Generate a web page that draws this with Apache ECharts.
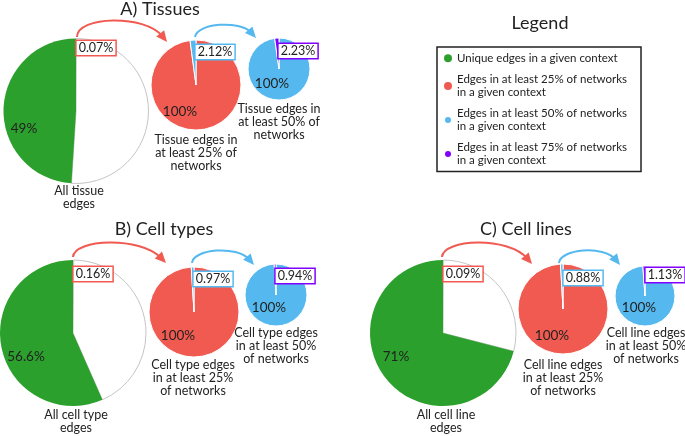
<!DOCTYPE html>
<html>
<head>
<meta charset="utf-8">
<script src="https://cdn.jsdelivr.net/npm/echarts@6/dist/echarts.min.js"></script>
<style>html,body{margin:0;padding:0;background:#fff}#c{width:685px;height:436px}</style>
</head>
<body>
<div id="c"></div>
<script>
// ---- data ----
const panelTitles = ['A) Tissues', 'B) Cell types', 'C) Cell lines'];
const uniquePct = [49, 56.6, 71];          // green share of all edges
const in25Pct = [0.07, 0.16, 0.09];        // share of all edges in >=25% of networks
const in50Pct = [2.12, 0.97, 0.88];        // share of 25% edges in >=50% of networks
const in75Pct = [2.23, 0.94, 1.13];        // share of 50% edges in >=75% of networks
const allCaptions = ['All tissue\nedges', 'All cell type\nedges', 'All cell line\nedges'];
const cap25 = ['Tissue edges in\nat least 25% of\nnetworks', 'Cell type edges\nin at least 25%\nof networks', 'Cell line edges\nin at least 25%\nof networks'];
const cap50 = ['Tissue edges in\nat least 50% of\nnetworks', 'Cell type edges\nin at least 50%\nof networks', 'Cell line edges\nin at least 50%\nof networks'];
const legendNames = [
  'Unique edges in a given context',
  'Edges in at least 25% of networks\nin a given context',
  'Edges in at least 50% of networks\nin a given context',
  'Edges in at least 75% of networks\nin a given context'
];
const wholeLabel = '100%';

// ---- style / layout ----
const GREEN = '#2ca02c', RED = '#f05a50', BLUE = '#55b9f0', PURPLE = '#8000ff';
const FONT = 'Lato';
const layout = [
  { big: [76, 111, 72.5], red: [196, 85, 45], blue: [279, 69, 31], title: [160, 0],
    uniqLbl: [24, 129], redLbl: [180, 112], blueLbl: [272, 84],
    box25: [96, 48], box50: [215, 52], box75: [298, 51],
    capAll: [79, 191], cap25: [196, 140], cap50: [279, 109],
    arrR: [77, 37, 77, 16, 145, 14, 167, 42], arrB: [195, 37, 197, 23, 240, 20, 256, 38] },
  { big: [73, 333, 73], red: [194, 312, 45], blue: [276, 295, 31], title: [164, 220],
    uniqLbl: [26, 357], redLbl: [178, 336], blueLbl: [269, 308],
    box25: [93, 274], box50: [213, 279], box75: [295, 276],
    capAll: [76, 415], cap25: [193, 365], cap50: [276, 333],
    arrR: [73, 257, 74, 239, 140, 236, 166, 263], arrB: [192, 263, 193, 249, 237, 245, 254, 265] },
  { big: [443, 333, 73], red: [563, 309, 45], blue: [645, 296, 30], title: [526, 220],
    uniqLbl: [396, 357], redLbl: [552, 336], blueLbl: [639, 308],
    box25: [463, 274], box50: [583, 278], box75: [665, 275],
    capAll: [446, 415], cap25: [563, 365], cap50: [646, 333],
    arrR: [442, 257, 443, 239, 508, 236, 532, 264], arrB: [559, 263, 560, 249, 604, 245, 620, 265] }
];

const series = [];
const graphic = [];
const titles = [];

function arrow(p, color) {
  const [x1, y1, c1x, c1y, c2x, c2y, tx, ty] = p;
  let dx = tx - c2x, dy = ty - c2y;
  const L = Math.hypot(dx, dy); dx /= L; dy /= L;
  const nx = -dy, ny = dx;
  const ex = tx - dx * 7, ey = ty - dy * 7;
  graphic.push({ type: 'bezierCurve', silent: true, z: 10,
    shape: { x1, y1, cpx1: c1x, cpy1: c1y, cpx2: c2x, cpy2: c2y, x2: ex, y2: ey },
    style: { stroke: color, lineWidth: 2, fill: null } });
  graphic.push({ type: 'polygon', silent: true, z: 10,
    shape: { points: [[tx, ty], [tx - dx * 11 + nx * 5, ty - dy * 11 + ny * 5], [tx - dx * 11 - nx * 5, ty - dy * 11 - ny * 5]] },
    style: { fill: color } });
}
function txt(x, y, text, size, color, lh) {
  graphic.push({ type: 'text', x, y, silent: true, z: 10,
    style: { text, font: size + 'px ' + FONT, fill: color || '#222', align: 'center',
      verticalAlign: 'top', lineHeight: lh || size } });
}
function ctext(x, y, text, size) {
  graphic.push({ type: 'text', x, y, silent: true, z: 10,
    style: { text, font: size + 'px ' + FONT, fill: '#222', align: 'center', verticalAlign: 'middle' } });
}
function boxText(x, y, text, color) {
  graphic.push({ type: 'text', x, y, silent: true, z: 11,
    style: { text, font: '12.5px ' + FONT, fill: '#222', align: 'center', verticalAlign: 'middle',
      backgroundColor: '#fff', borderColor: color, borderWidth: 1.5, padding: [1, 2, 0, 2] } });
}

panelTitles.forEach((t, i) => {
  const L = layout[i];
  titles.push({ text: t, left: L.title[0], top: L.title[1], textAlign: 'center', padding: 0,
    textStyle: { fontFamily: FONT, fontSize: 18, fontWeight: 'normal', color: '#222' } });
  // all edges pie
  series.push({ type: 'pie', center: [L.big[0], L.big[1]], radius: L.big[2], startAngle: 90, clockwise: true,
    label: { show: false }, labelLine: { show: false }, silent: true,
    data: [
      { name: legendNames[1], value: in25Pct[i], itemStyle: { color: RED } },
      { name: 'other', value: 100 - uniquePct[i] - in25Pct[i], itemStyle: { color: '#fff', borderColor: '#c4c4c4', borderWidth: 1 } },
      { name: legendNames[0], value: uniquePct[i], itemStyle: { color: GREEN } }
    ] });
  // 25% pie
  series.push({ type: 'pie', center: [L.red[0], L.red[1]], radius: L.red[2], startAngle: 90, clockwise: true,
    label: { show: false }, labelLine: { show: false }, silent: true,
    itemStyle: { borderColor: '#fff', borderWidth: 1 },
    data: [
      { name: legendNames[1], value: 100 - in50Pct[i], itemStyle: { color: RED } },
      { name: legendNames[2], value: in50Pct[i], itemStyle: { color: BLUE } }
    ] });
  // 50% pie
  series.push({ type: 'pie', center: [L.blue[0], L.blue[1]], radius: L.blue[2], startAngle: 90, clockwise: true,
    label: { show: false }, labelLine: { show: false }, silent: true,
    itemStyle: { borderColor: '#fff', borderWidth: 1 },
    data: [
      { name: legendNames[2], value: 100 - in75Pct[i], itemStyle: { color: BLUE } },
      { name: legendNames[3], value: in75Pct[i], itemStyle: { color: PURPLE } }
    ] });

  ctext(L.uniqLbl[0], L.uniqLbl[1], uniquePct[i] + '%', 13.5);
  ctext(L.redLbl[0], L.redLbl[1], wholeLabel, 13.5);
  ctext(L.blueLbl[0], L.blueLbl[1], wholeLabel, 13.5);
  boxText(L.box25[0], L.box25[1], in25Pct[i].toFixed(2) + '%', RED);
  boxText(L.box50[0], L.box50[1], in50Pct[i].toFixed(2) + '%', BLUE);
  boxText(L.box75[0], L.box75[1], in75Pct[i].toFixed(2) + '%', PURPLE);
  txt(L.capAll[0], L.capAll[1] - 6.5, allCaptions[i], 12.5, '#222', 13);
  txt(L.cap25[0], L.cap25[1] - 6.5, cap25[i], 12.5, '#222', 13);
  txt(L.cap50[0], L.cap50[1] - 6.5, cap50[i], 12.5, '#222', 13);
  arrow(L.arrR, RED);
  arrow(L.arrB, BLUE);
});

titles.push({ text: 'Legend', left: 540, top: 14, textAlign: 'center', padding: 0,
  textStyle: { fontFamily: FONT, fontSize: 18, fontWeight: 'normal', color: '#222' } });

const chart = echarts.init(document.getElementById('c'), null, { renderer: 'canvas' });
chart.setOption({
  animation: false,
  title: titles,
  legend: {
    data: legendNames, orient: 'vertical', left: 437, top: 47, icon: 'circle',
    itemWidth: 8, itemHeight: 8, itemGap: 9, selectedMode: false,
    padding: [5, 14, 5, 6], borderColor: '#222', borderWidth: 1.5,
    textStyle: { fontFamily: FONT, fontSize: 11.5, lineHeight: 12.5, color: '#222' }
  },
  series,
  graphic
});
</script>
</body>
</html>
